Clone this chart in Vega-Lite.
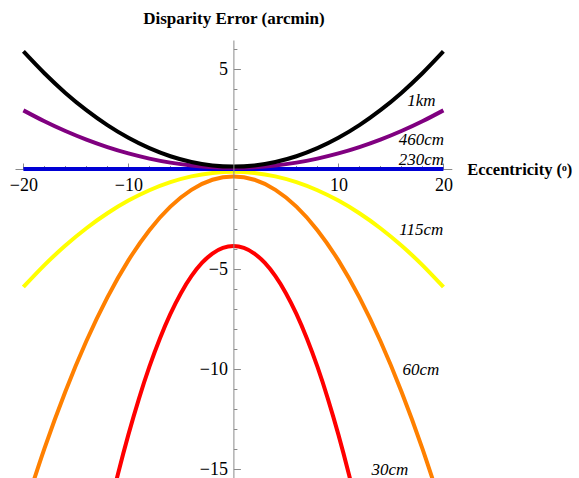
{
  "$schema": "https://vega.github.io/schema/vega-lite/v6.json",
  "width": 436.8,
  "height": 439,
  "autosize": {"type": "none"},
  "padding": {"left": 15, "top": 40, "right": 127.2, "bottom": 0},
  "background": "white",
  "config": {
    "view": {"stroke": null},
    "axis": {
      "grid": false,
      "labelFont": "Liberation Serif",
      "labelFontSize": 18,
      "labelColor": "#000000",
      "domainColor": "#8a8a8a",
      "tickColor": "#8a8a8a",
      "domainWidth": 1,
      "tickWidth": 1,
      "titleFont": "Liberation Serif",
      "titleFontSize": 17,
      "titleFontWeight": "bold",
      "titleColor": "#000000"
    }
  },
  "datasets": {
    "curves": [
      {"s": "30cm", "x": -13, "y": -19.79}, {"s": "30cm", "x": -12, "y": -17.43}, {"s": "30cm", "x": -11, "y": -15.26}, {"s": "30cm", "x": -10, "y": -13.28},
      {"s": "30cm", "x": -9, "y": -11.49}, {"s": "30cm", "x": -8, "y": -9.885}, {"s": "30cm", "x": -7, "y": -8.471}, {"s": "30cm", "x": -6, "y": -7.245},
      {"s": "30cm", "x": -5, "y": -6.208}, {"s": "30cm", "x": -4, "y": -5.359}, {"s": "30cm", "x": -3, "y": -4.699}, {"s": "30cm", "x": -2, "y": -4.227},
      {"s": "30cm", "x": -1, "y": -3.944}, {"s": "30cm", "x": 0, "y": -3.85}, {"s": "30cm", "x": 1, "y": -3.944}, {"s": "30cm", "x": 2, "y": -4.227},
      {"s": "30cm", "x": 3, "y": -4.699}, {"s": "30cm", "x": 4, "y": -5.359}, {"s": "30cm", "x": 5, "y": -6.208}, {"s": "30cm", "x": 6, "y": -7.245},
      {"s": "30cm", "x": 7, "y": -8.471}, {"s": "30cm", "x": 8, "y": -9.885}, {"s": "30cm", "x": 9, "y": -11.49}, {"s": "30cm", "x": 10, "y": -13.28},
      {"s": "30cm", "x": 11, "y": -15.26}, {"s": "30cm", "x": 12, "y": -17.43}, {"s": "30cm", "x": 13, "y": -19.79},

      {"s": "60cm", "x": -20, "y": -17.17}, {"s": "60cm", "x": -18, "y": -13.98}, {"s": "60cm", "x": -16, "y": -11.12}, {"s": "60cm", "x": -14, "y": -8.602},
      {"s": "60cm", "x": -12, "y": -6.418}, {"s": "60cm", "x": -10, "y": -4.57}, {"s": "60cm", "x": -8, "y": -3.058}, {"s": "60cm", "x": -6, "y": -1.882},
      {"s": "60cm", "x": -4, "y": -1.042}, {"s": "60cm", "x": -2, "y": -0.538}, {"s": "60cm", "x": 0, "y": -0.37}, {"s": "60cm", "x": 2, "y": -0.538},
      {"s": "60cm", "x": 4, "y": -1.042}, {"s": "60cm", "x": 6, "y": -1.882}, {"s": "60cm", "x": 8, "y": -3.058}, {"s": "60cm", "x": 10, "y": -4.57},
      {"s": "60cm", "x": 12, "y": -6.418}, {"s": "60cm", "x": 14, "y": -8.602}, {"s": "60cm", "x": 16, "y": -11.12}, {"s": "60cm", "x": 18, "y": -13.98},
      {"s": "60cm", "x": 20, "y": -17.17},

      {"s": "115cm", "x": -20, "y": -5.9}, {"s": "115cm", "x": -18, "y": -4.806}, {"s": "115cm", "x": -16, "y": -3.826}, {"s": "115cm", "x": -14, "y": -2.962},
      {"s": "115cm", "x": -12, "y": -2.214}, {"s": "115cm", "x": -10, "y": -1.58}, {"s": "115cm", "x": -8, "y": -1.062}, {"s": "115cm", "x": -6, "y": -0.658},
      {"s": "115cm", "x": -4, "y": -0.37}, {"s": "115cm", "x": -2, "y": -0.198}, {"s": "115cm", "x": 0, "y": -0.14}, {"s": "115cm", "x": 2, "y": -0.198},
      {"s": "115cm", "x": 4, "y": -0.37}, {"s": "115cm", "x": 6, "y": -0.658}, {"s": "115cm", "x": 8, "y": -1.062}, {"s": "115cm", "x": 10, "y": -1.58},
      {"s": "115cm", "x": 12, "y": -2.214}, {"s": "115cm", "x": 14, "y": -2.962}, {"s": "115cm", "x": 16, "y": -3.826}, {"s": "115cm", "x": 18, "y": -4.806},
      {"s": "115cm", "x": 20, "y": -5.9},

      {"s": "230cm", "x": -20, "y": 0}, {"s": "230cm", "x": 0, "y": 0}, {"s": "230cm", "x": 20, "y": 0},

      {"s": "460cm", "x": -20, "y": 2.932}, {"s": "460cm", "x": -18, "y": 2.386}, {"s": "460cm", "x": -16, "y": 1.898}, {"s": "460cm", "x": -14, "y": 1.467},
      {"s": "460cm", "x": -12, "y": 1.094}, {"s": "460cm", "x": -10, "y": 0.778}, {"s": "460cm", "x": -8, "y": 0.52}, {"s": "460cm", "x": -6, "y": 0.318},
      {"s": "460cm", "x": -4, "y": 0.175}, {"s": "460cm", "x": -2, "y": 0.089}, {"s": "460cm", "x": 0, "y": 0.06}, {"s": "460cm", "x": 2, "y": 0.089},
      {"s": "460cm", "x": 4, "y": 0.175}, {"s": "460cm", "x": 6, "y": 0.318}, {"s": "460cm", "x": 8, "y": 0.52}, {"s": "460cm", "x": 10, "y": 0.778},
      {"s": "460cm", "x": 12, "y": 1.094}, {"s": "460cm", "x": 14, "y": 1.467}, {"s": "460cm", "x": 16, "y": 1.898}, {"s": "460cm", "x": 18, "y": 2.386},
      {"s": "460cm", "x": 20, "y": 2.932},

      {"s": "1km", "x": -20, "y": 5.88}, {"s": "1km", "x": -18, "y": 4.786}, {"s": "1km", "x": -16, "y": 3.806}, {"s": "1km", "x": -14, "y": 2.942},
      {"s": "1km", "x": -12, "y": 2.194}, {"s": "1km", "x": -10, "y": 1.56}, {"s": "1km", "x": -8, "y": 1.042}, {"s": "1km", "x": -6, "y": 0.638},
      {"s": "1km", "x": -4, "y": 0.35}, {"s": "1km", "x": -2, "y": 0.178}, {"s": "1km", "x": 0, "y": 0.12}, {"s": "1km", "x": 2, "y": 0.178},
      {"s": "1km", "x": 4, "y": 0.35}, {"s": "1km", "x": 6, "y": 0.638}, {"s": "1km", "x": 8, "y": 1.042}, {"s": "1km", "x": 10, "y": 1.56},
      {"s": "1km", "x": 12, "y": 2.194}, {"s": "1km", "x": 14, "y": 2.942}, {"s": "1km", "x": 16, "y": 3.806}, {"s": "1km", "x": 18, "y": 4.786},
      {"s": "1km", "x": 20, "y": 5.88}
    ],
    "labels": [
      {"t": "1km", "x": 17.9, "y": 3.38},
      {"t": "460cm", "x": 17.9, "y": 1.43},
      {"t": "230cm", "x": 17.9, "y": 0.43},
      {"t": "115cm", "x": 17.9, "y": -3.07},
      {"t": "60cm", "x": 17.86, "y": -10.07},
      {"t": "30cm", "x": 14.9, "y": -15.03}
    ]
  },
  "encoding": {
    "x": {
      "field": "x", "type": "quantitative",
      "scale": {"domain": [-20.8, 20.8], "nice": false, "zero": false},
      "axis": {
        "orient": "bottom",
        "offset": -310,
        "zindex": 0,
        "values": [-20, -18, -16, -14, -12, -10, -8, -6, -4, -2, 2, 4, 6, 8, 10, 12, 14, 16, 18, 20],
        "labelExpr": "datum.value % 10 === 0 ? datum.label : ''",
        "tickSize": {"condition": {"test": "datum.value % 10 === 0", "value": -6}, "value": -3.5},
        "labelPadding": 13,
        "labelFlush": false,
        "labelOverlap": false,
        "title": "Eccentricity (ᵒ)",
        "titleFontSize": 16.5,
        "titleAngle": 0,
        "titleAlign": "left",
        "titleBaseline": "alphabetic",
        "titleX": 451.7,
        "titleY": 5
      }
    },
    "y": {
      "field": "y", "type": "quantitative",
      "scale": {"domain": [-15.5, 6.45], "nice": false, "zero": false},
      "axis": {
        "orient": "left",
        "offset": -218.4,
        "zindex": 1,
        "values": [-15, -14, -13, -12, -11, -10, -9, -8, -7, -6, -5, -4, -3, -2, -1, 1, 2, 3, 4, 5, 6],
        "labelExpr": "datum.value % 5 === 0 ? datum.label : ''",
        "tickSize": {"condition": {"test": "datum.value % 5 === 0", "value": -7}, "value": -3.5},
        "labelPadding": 13,
        "labelFlush": false,
        "labelOverlap": false,
        "title": "Disparity Error (arcmin)",
        "titleAngle": 0,
        "titleAlign": "center",
        "titleBaseline": "alphabetic",
        "titleX": 0,
        "titleY": -17
      }
    }
  },
  "layer": [
    {"data": {"name": "curves"}, "transform": [{"filter": "datum.s === '30cm'"}], "mark": {"type": "line", "color": "#ff0000", "strokeWidth": 4, "interpolate": "natural", "clip": true}},
    {"data": {"name": "curves"}, "transform": [{"filter": "datum.s === '60cm'"}], "mark": {"type": "line", "color": "#ff8000", "strokeWidth": 4, "interpolate": "natural", "clip": true}},
    {"data": {"name": "curves"}, "transform": [{"filter": "datum.s === '115cm'"}], "mark": {"type": "line", "color": "#ffff00", "strokeWidth": 4, "interpolate": "natural", "clip": true}},
    {"data": {"name": "curves"}, "transform": [{"filter": "datum.s === '230cm'"}], "mark": {"type": "line", "color": "#0000d4", "strokeWidth": 4, "clip": true}},
    {"data": {"name": "curves"}, "transform": [{"filter": "datum.s === '460cm'"}], "mark": {"type": "line", "color": "#800080", "strokeWidth": 4, "interpolate": "natural", "clip": true}},
    {"data": {"name": "curves"}, "transform": [{"filter": "datum.s === '1km'"}], "mark": {"type": "line", "color": "#000000", "strokeWidth": 4, "interpolate": "natural", "clip": true}},
    {
      "data": {"name": "labels"},
      "mark": {"type": "text", "font": "Liberation Serif", "fontStyle": "italic", "fontSize": 17, "align": "center", "baseline": "middle", "color": "#000000"},
      "encoding": {"text": {"field": "t", "type": "nominal"}}
    }
  ]
}
